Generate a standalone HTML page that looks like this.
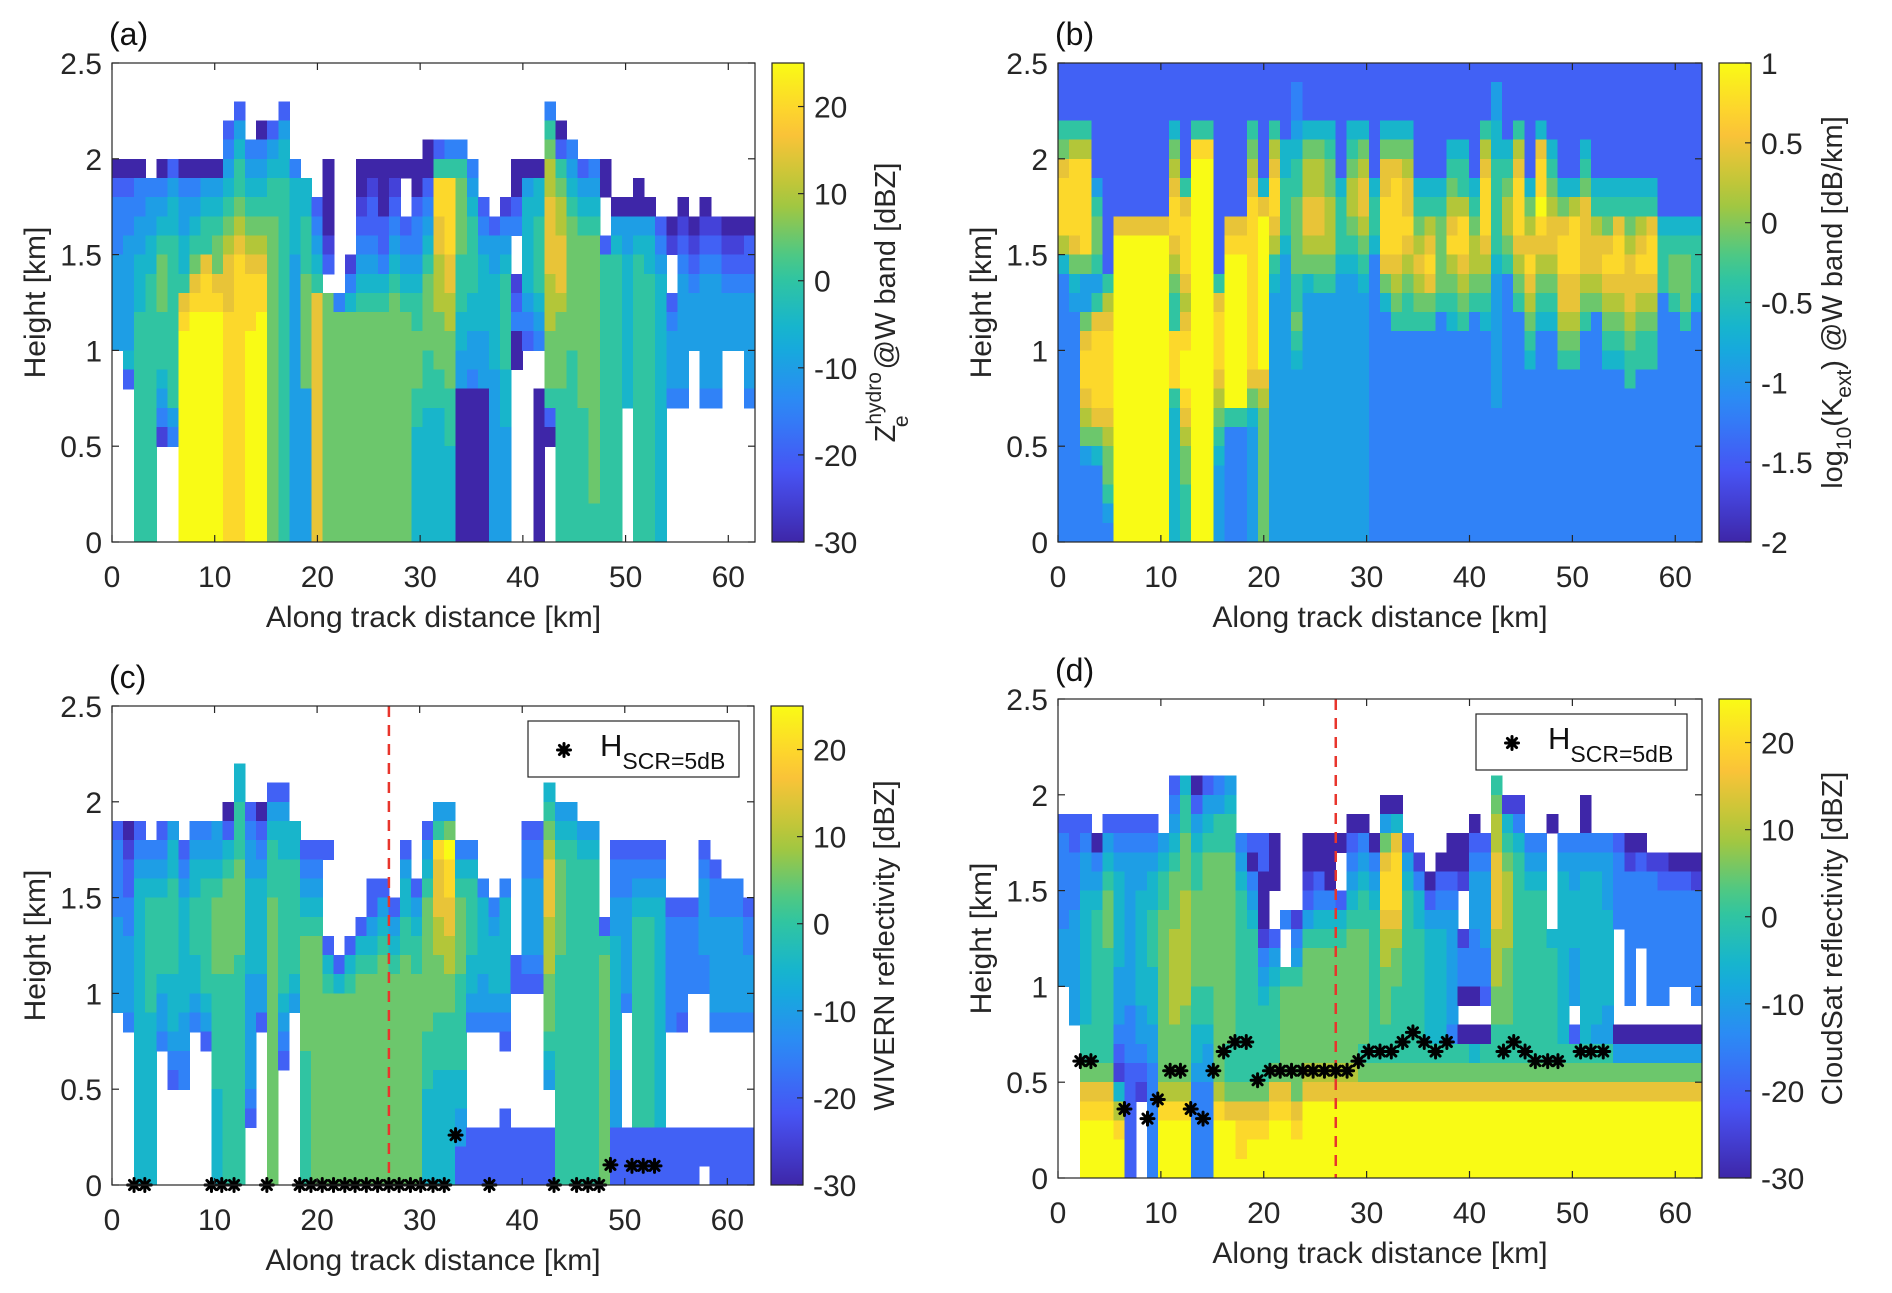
<!DOCTYPE html>
<html><head><meta charset="utf-8"><title>Radar panels</title>
<style>
html,body{margin:0;padding:0;background:#fff;}
svg{display:block;font-family:"Liberation Sans",Arial,sans-serif;}
</style></head>
<body>
<svg id="fig" xmlns="http://www.w3.org/2000/svg" width="1892" height="1293" viewBox="0 0 1892 1293"></svg>
<script>
// ---- data: each column is a string of 25 cells from 2.5 km (top) down to 0 km, 0.1 km per cell
// '.' = no data, '0'..'9','a','b' = colour level (0 = colourbar min, b = colourbar max)
const colsA = [
".....0233344444..........",".....023344444452........",".....03344555666666666666","......3445566666666666666",
".....034567776665431.....",".....245566666666643.....",".....03445569abbbbbbbbbbb",".....0345679abbbbbbbbbbbb",
".....045669aabbbbbbbbbbbb",".....0456779abbbbbbbbbbbb","...2345678999aaaaaaaaaaaa","..24566789aaaaaaaaaaaaaaa",
"....3456789aaabbbbbbbbbbb","...03456789aabbbbbbbbbbbb","...2456677777777777777777","..24556666666666666666666",
".....35555444444444444444","......5566677777744444444",".......234569999999999999",".....000012.7777777777777",
"............3777777777777","..........135777777777777",".....00123456777777777777",".....01223456777777777777",
".....00022356777777777777",".....01234567777777777777",".....0..23456777777777777",".....00233456677766555555",
"....002345677776665555555","....26aa99888777665555555","....36aaaa998877766655555","....367777666554400000000",
".....34566665544300000000",".......234555544400000000","........24455555444444444",".......134566666555444444",
".....0023..12300.........",".....0455555432..........",".....0556666543..00000000","..367889999888777620.....",
"...0267889998777766666666","....345677777776666666666",".....24567777777776666666",".....34567777777777777766",
".....00..2666666666666666",".......045666666666666666",".......04455555555.......","......0045666666666666666",
".......045566666666666666","........23455555555555555","........01..234443.......",".......01234444443.......",
"........0123444..........",".......01234444443.......","........1234444443.......","........0123444..........",
"........0123444..........","........0223444443......."
];
const colsB = [
"222679aaa8533333333333333","22268aaaa9754333333333333","22268aaaaa74479aa98743333","22222246776469aaaa9753333",
"22222222222689aaaa9877643","222222229bbbbbbbbbbbbbbbb","222222229bbbbbbbbbbbbbbbb","222222229bbbbbbbbbbbbbbbb",
"222222229bbbbbbbbbbbbbbbb","222222229bbbbbbbbbbbbbbbb","2225789aa98766aaa65555555","22222269aaa989abba9877666",
"2226abbbbbbbbbbbbbbbbbbbb","2226abbbbbbbbbbbbbbbbbbbb","2222222222269aaa987654444","222222229abbbbbbbb6333333",
"222222229abbbbbbbb6333333","2226789aaaaaaaaa975444444","22222259bbbbbbbb987777777","222689aa98654444444444444",
"2222556665444444444444444","2334566777766765444444444","2225788998754444444444444","2225788998764444444444444",
"2225677888764444444444444","2222225666544444444444444","2225678876544444444444444","2225789987654444444444444",
"2222225665333333333333333","2225799aaa975333333333333","222579aaaa987633333333333","22257899a9876633333333333",
"2222225678987633333333333","2222225689a97633333333333","2222225677776333333333333","222256789a876533333333333",
"22225668aa987633333333333","2222225678876333333333333","222689aaa9876533333333333","2445566666544444443333333",
"2222567887633333333333333","222689aaa9876333333333333","2222225789a98765333333333","22259aaba9876533333333333",
"2222567899876533333333333","222222579aa99876333333333","22222258aaa99876333333333","2222567999987633333333333",
"2222225689987333333333333","2222225679a98765333333333","222222569aa98765333333333","2222225678999876633333333",
"2222225689a98766333333333","222222569aa98766333333333","2222222256663333333333333","2222222256776333333333333",
"2222222256777633333333333","2222222256665333333333333"
];
const colsC = [
"......2333344444.........","......01223344443........","......2345555555555555555",".......345666666555555555",
"......234566665443.......","......45566666555432.....",".......2345555554433.....","......34556665543........",
"......345666666542.......","......4456777766666655555",".....02567777766666666666","...5566677777666666666666",
".....23445555544444432...",".....023455555442........","....245666777777777777777","....245566666665432......",
"......5566666654.........",".......234567777776666666",".......234567777777777777",".......2....2567777777777",
".............257777777777","............2567777777777","...........25677777777777",".........2245677777777777",
".........2456777777777777","..........245677777777777",".......245566777777777777",".........2456677777777777",
"......2456777777766655555",".....46a99988777666555555",".....47baa998877666555555",".......356777766666554422",
".......3566665543.....222",".........35555443.....222","..........3455543.....222",".........355555432...2222",
".............22.......222","......233444432.......222","......233444432.......222","....5678999888777654..222",
".....45677777666666666666",".....45666666666666666666","......4566666666666666666","......4566666666666666666",
"...........26777777777777",".......233445555555444222",".......233444443......222",".......234566666666666222",
".......234566666666666222",".......234555555555555222","..........2333333.....222","..........2333332.....222",
"..........23333.......222",".......23444433.......22.","........233444443.....222",".........33444443.....222",
".........33444443.....222","..........2334443.....222"
];
const colsD = [
"......233333444..........","......22333444444........","......234455555556679abbb",".......03456666666679abbb",
"......245677766666679abbb","......2345555544432158abb","......2344444444333222222","......234455555544321....",
"......2345566655544333333",".......45667777777778abbb","....23456777888887778abbb","....56677788888877778abbb",
"....024566777776655433333","....245677777776654433333","....34667777777777778abbb","....456677777777776679bbb",
".......345666666666679aab",".......203456666666679abb",".......220001345666679abb",".......000..245666679abbb",
"...........3..6777779abbb","...........13467777779abb",".......00124677777789bbbb",".......00235677777789bbbb",
".......00035677777789bbbb",".......0..25677777789bbbb","......023456777777789bbbb","......034566777777679bbbb",
".......03456666666679bbbb",".....0479aa9887776679bbbb",".....059aaa9877666679bbbb",".......24566666666679bbbb",
"........1355666666679bbbb",".........024555555679bbbb","........0234555555679bbbb",".......00234444443679bbbb",
".......001..1330.0679bbbb","......0234443330.0579bbbb",".......234444332.0679bbbb","....67889999888776679bbbb",
".....1567888877776679bbbb",".....1356666666666679bbbb",".......34566666666679bbbb",".......34566666666679bbbb",
"......0.....566666679bbbb",".......34555555555679bbbb",".......344555444.2679bbbb",".....0034555555555679bbbb",
".......34555555554679bbbb",".......34445555544679bbbb",".......23333.....0479bbbb",".......013333333.0479bbbb",
".......023333....0479bbbb","........13333333.0479bbbb","........12333333.0479bbbb","........0233333..0479bbbb",
"........0233333..0479bbbb","........01333333.0479bbbb"
];
// marker data (along-track km, height km)
const starsCx = [2.15,3.2,9.7,10.7,11.9,15.1,18.3,19.4,20.5,21.6,22.7,23.7,24.8,25.9,27.0,28.0,29.1,30.1,31.3,32.4,33.5,36.8,43.1,45.3,46.4,47.5,48.6,50.7,51.8,52.9];
const starsCh = [0,0,0,0,0,0,0,0,0,0,0,0,0,0,0,0,0,0,0,0,0.26,0,0,0,0,0,0.105,0.1,0.1,0.1];
const starsDx = [2.17,3.2,6.46,8.7,9.7,10.9,11.9,12.9,14.1,15.1,16.1,17.2,18.3,19.4,20.6,21.6,22.7,23.8,24.8,25.9,27.0,28.1,29.2,30.2,31.3,32.4,33.5,34.5,35.6,36.7,37.8,43.3,44.3,45.4,46.4,47.6,48.6,50.8,51.8,53.0];
const starsDh = [0.61,0.61,0.36,0.31,0.41,0.56,0.56,0.36,0.31,0.56,0.66,0.71,0.71,0.51,0.56,0.56,0.56,0.56,0.56,0.56,0.56,0.56,0.61,0.66,0.66,0.66,0.71,0.76,0.71,0.66,0.71,0.66,0.71,0.66,0.61,0.61,0.61,0.66,0.66,0.66];
const dashedLineKm = [27.0];
const xTicks = [0,10,20,30,40,50,60];
const yTicks = [0,0.5,1,1.5,2,2.5];
const yTickLabels = ["0","0.5","1","1.5","2","2.5"];
const dbzTicks = [-30,-20,-10,0,10,20];
const kextTicks = [-2,-1.5,-1,-0.5,0,0.5,1];

const NS = "http://www.w3.org/2000/svg";
const svg = document.getElementById('fig');
const XMAX = 62.6, YMAX = 2.5, NROW = 25;
const FS = 30;
const PAR = [[0.2422,0.1504,0.6603],[0.2810,0.3228,0.9579],[0.1786,0.5289,0.9682],[0.0689,0.6948,0.8394],
             [0.2161,0.7843,0.5923],[0.6720,0.7793,0.2227],[0.9970,0.7659,0.2199],[0.9769,0.9839,0.0805]];
function parula(t){
  t = Math.max(0, Math.min(1, t));
  const p = t*7, i = Math.min(6, Math.floor(p)), f = p - i;
  const c = PAR[i].map((v,k)=>Math.round(255*(v + (PAR[i+1][k]-v)*f)));
  return 'rgb(' + c.join(',') + ')';
}
function el(tag, attrs, parent){
  const e = document.createElementNS(NS, tag);
  for (const k in attrs) e.setAttribute(k, attrs[k]);
  (parent || svg).appendChild(e);
  return e;
}

function panel(p){
  const g = el('g', {});
  
  
  const X = km => p.x0 + (p.x1 - p.x0) * km / XMAX;
  const Y = h => p.y1 - (p.y1 - p.y0) * h / YMAX;
  const hm = el('g', {'shape-rendering':'crispEdges'}, g);
  
  
  const W = XMAX / p.cols.length;
  p.cols.forEach((col, i) => {
    for (let r = 0; r < NROW; r++) {
      const ch = col[r];
      if (!ch || ch === '.') continue;
      const lvl = parseInt(ch, 16);
      const hTop = YMAX - r * 0.1, hBot = YMAX - (r + 1) * 0.1;
      const xa = X(i * W), xb = X((i + 1) * W);
      const cell = el('rect', {x: xa.toFixed(2), y: Y(hTop).toFixed(2),
        width: (xb - xa + 0.6).toFixed(2), height: (Y(hBot) - Y(hTop) + 0.6).toFixed(2), fill: parula(lvl / 11)}, hm);
      
      
    }
  });
  if (p.dashed) dashedLineKm.forEach(km => {
    const ln = el('line', {x1: X(km), x2: X(km), y1: p.y0, y2: p.y1, stroke: '#e8352c', 'stroke-width': 2.5, 'stroke-dasharray': '11 8'}, g);
    
    
  });
  if (p.sx) {
    const sg = el('g', {stroke: '#000', 'stroke-width': 3, 'stroke-linecap': 'round'}, g);
    
    
    p.sx.forEach((km, i) => drawStar(sg, X(km), Y(p.sh[i])));
  }
  const box = el('rect', {x: p.x0, y: p.y0, width: p.x1 - p.x0, height: p.y1 - p.y0, fill: 'none', stroke: '#262626', 'stroke-width': 1.2}, g);
  
  
  xTicks.forEach(v => {
    const x = X(v);
    el('line', {x1: x, x2: x, y1: p.y1, y2: p.y1 - 7, stroke: '#262626', 'stroke-width': 1.2}, g);
    el('line', {x1: x, x2: x, y1: p.y0, y2: p.y0 + 7, stroke: '#262626', 'stroke-width': 1.2}, g);
    const t = el('text', {x: x, y: p.y1 + 45, 'text-anchor': 'middle', 'font-size': FS, fill: '#262626'}, g);
    t.textContent = String(v);
    
    
  });
  yTicks.forEach((v, i) => {
    const y = Y(v);
    el('line', {x1: p.x0, x2: p.x0 + 7, y1: y, y2: y, stroke: '#262626', 'stroke-width': 1.2}, g);
    el('line', {x1: p.x1, x2: p.x1 - 7, y1: y, y2: y, stroke: '#262626', 'stroke-width': 1.2}, g);
    const t = el('text', {x: p.x0 - 10, y: y + 11, 'text-anchor': 'end', 'font-size': FS, fill: '#262626'}, g);
    t.textContent = yTickLabels[i];
    
    
  });
  const xl = el('text', {x: (p.x0 + p.x1) / 2, y: p.y1 + 85, 'text-anchor': 'middle', 'font-size': FS, fill: '#262626'}, g);
  xl.textContent = 'Along track distance [km]';
  
  
  const ym = (p.y0 + p.y1) / 2;
  const yl = el('text', {x: 0, y: 0, transform: 'translate(' + (p.x0 - 67) + ',' + ym + ') rotate(-90)', 'text-anchor': 'middle', 'font-size': FS, fill: '#262626'}, g);
  yl.textContent = 'Height [km]';
  
  
  const pl = el('text', {x: p.x0 - 3, y: p.y0 - 18, 'font-size': 32, fill: '#111'}, g);
  pl.textContent = p.letter;
  
  
  const cx0 = p.x1 + 17, cx1 = p.x1 + 49;
  const gid = 'grad-' + p.name;
  const defs = el('defs', {}, g);
  const lg = el('linearGradient', {id: gid, x1: 0, y1: 1, x2: 0, y2: 0}, defs);
  for (let k = 0; k <= 20; k++) el('stop', {offset: (k / 20), 'stop-color': parula(k / 20)}, lg);
  const cb = el('rect', {x: cx0, y: p.y0, width: cx1 - cx0, height: p.y1 - p.y0, fill: 'url(#' + gid + ')', stroke: '#262626', 'stroke-width': 1.2}, g);
  
  
  const CY = v => p.y1 - (p.y1 - p.y0) * (v - p.vmin) / (p.vmax - p.vmin);
  p.cticks.forEach(v => {
    const y = CY(v);
    el('line', {x1: cx1, x2: cx1 - 6, y1: y, y2: y, stroke: '#262626', 'stroke-width': 1.2}, g);
    const t = el('text', {x: cx1 + 10, y: y + 11, 'font-size': FS, fill: '#262626'}, g);
    t.textContent = String(v);
    
    
  });
  const ct = el('text', {x: 0, y: 0, transform: 'translate(' + (p.x1 + 140) + ',' + ym + ') rotate(-90)', 'text-anchor': 'middle', 'font-size': 29, fill: '#262626'}, g);
  ct.innerHTML = p.ctitle;
  
  
  if (p.legend) {
    const lx = p.x1 - 226, ly = p.y0 + 15;
    const lgG = el('g', {}, g);
    
    
    el('rect', {x: lx, y: ly, width: 211, height: 56, fill: '#fff', stroke: '#262626', 'stroke-width': 1.2}, lgG);
    const sg = el('g', {stroke: '#000', 'stroke-width': 3, 'stroke-linecap': 'round'}, lgG);
    drawStar(sg, lx + 36, ly + 29);
    const lt = el('text', {x: lx + 72, y: ly + 35, 'font-size': 31, fill: '#111'}, lgG);
    lt.innerHTML = 'H<tspan font-size="23" dy="13">SCR=5dB</tspan>';
    
    
  }
}
function drawStar(parent, cx, cy){
  const r = 6.5;
  const s = el('g', {}, parent);
  
  
  [[0,1],[1,0],[0.7,0.7],[0.7,-0.7]].forEach(([dx,dy]) => {
    el('line', {x1: cx - dx*r, y1: cy - dy*r, x2: cx + dx*r, y2: cy + dy*r}, s);
  });
}

panel({name:'panel-a', letter:'(a)', x0:112, x1:755, y0:63, y1:542, cols:colsA, vmin:-30, vmax:25, cticks:dbzTicks,
  ctitle:'Z<tspan font-size="21" dy="-14">hydro</tspan><tspan font-size="21" dx="-55" dy="27">e</tspan><tspan dy="-13" dx="38"> @W band [dBZ]</tspan>'});
panel({name:'panel-b', letter:'(b)', x0:1058, x1:1702, y0:63, y1:542, cols:colsB, vmin:-2, vmax:1, cticks:kextTicks,
  ctitle:'log<tspan font-size="21" dy="9">10</tspan><tspan dy="-9">(K</tspan><tspan font-size="21" dy="9">ext</tspan><tspan dy="-9">) @W band [dB/km]</tspan>'});
panel({name:'panel-c', letter:'(c)', x0:112, x1:754, y0:706, y1:1185, cols:colsC, vmin:-30, vmax:25, cticks:dbzTicks,
  ctitle:'WIVERN reflectivity [dBZ]', dashed:true, sx:starsCx, sh:starsCh, legend:true});
panel({name:'panel-d', letter:'(d)', x0:1058, x1:1702, y0:699, y1:1178, cols:colsD, vmin:-30, vmax:25, cticks:dbzTicks,
  ctitle:'CloudSat reflectivity [dBZ]', dashed:true, sx:starsDx, sh:starsDh, legend:true});
</script>
</body></html>
